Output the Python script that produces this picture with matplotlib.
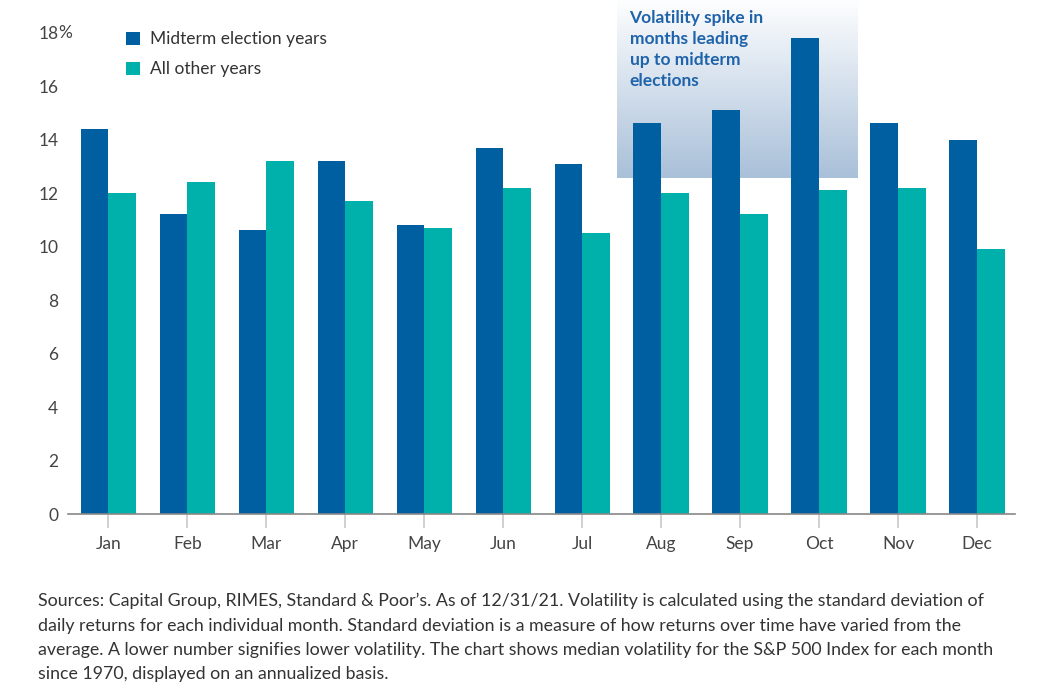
import numpy as np
import matplotlib.pyplot as plt
from matplotlib.colors import LinearSegmentedColormap

# Median annualized S&P 500 volatility by month (%)
months = ["Jan", "Feb", "Mar", "Apr", "May", "Jun",
          "Jul", "Aug", "Sep", "Oct", "Nov", "Dec"]
midterm = [14.4, 11.2, 10.6, 13.2, 10.8, 13.7, 13.1, 14.6, 15.1, 17.8, 14.6, 14.0]
other = [12.0, 12.4, 13.2, 11.7, 10.7, 12.2, 10.5, 12.0, 11.2, 12.1, 12.2, 9.9]
yticks = [0, 2, 4, 6, 8, 10, 12, 14, 16, 18]

blue = "#005fa0"
teal = "#00b0aa"
fs = 12.5

plt.rcParams['font.family'] = ['Lato', 'DejaVu Sans']

fig = plt.figure(figsize=(10.55, 6.95), dpi=100)
ax = fig.add_axes([0.0645, 0.2604, 0.8975, 0.6928])

x = np.arange(len(months))
w = 0.35
ax.bar(x - w / 2, midterm, w, color=blue, label="Midterm election years", zorder=3)
ax.bar(x + w / 2, other, w, color=teal, label="All other years", zorder=3)

# shaded callout box (gradient, fades to white at top)
grad = np.linspace(0, 1, 256).reshape(-1, 1)
cmap = LinearSegmentedColormap.from_list("fade", ["#a9c0d9", "#ffffff"])
ax.imshow(grad, extent=[6.44, 9.49, 12.56, 19.3], origin="lower", cmap=cmap,
          aspect="auto", zorder=1, clip_on=False)
ax.text(6.6, 18.85, "Volatility spike in\nmonths leading\nup to midterm\nelections",
        color="#1f63ab", fontsize=12.5, fontweight="bold", va="top", ha="left",
        linespacing=1.38, zorder=4)

ax.set_xlim(-0.51, 11.48)
ax.set_ylim(0, 18)
ax.set_xticks(x)
ax.set_xticklabels(months)
ax.set_yticks(yticks)
ax.set_yticklabels([str(t) for t in yticks])
ax.tick_params(axis="y", length=0, pad=7, labelsize=fs, labelcolor="#444444")
ax.tick_params(axis="x", length=10, width=1.2, color="#c8c8c8", pad=5.5,
               labelsize=fs, labelcolor="#444444")
ax.annotate("%", xy=(0, 18), xycoords=("axes fraction", "data"), xytext=(-7.3, 0),
            textcoords="offset points", ha="left", va="center",
            fontsize=fs, color="#444444")

for s in ["top", "right", "left"]:
    ax.spines[s].set_visible(False)
ax.spines["bottom"].set_color("#888888")
ax.spines["bottom"].set_linewidth(1.2)
ax.spines["bottom"].set_zorder(5)

ax.legend(loc="upper left", bbox_to_anchor=(0.045, 1.035), frameon=False,
          fontsize=fs, handlelength=0.8, handleheight=0.8, handletextpad=0.55,
          labelspacing=0.8, labelcolor="#333333")

note = ("Sources: Capital Group, RIMES, Standard & Poor’s. As of 12/31/21. Volatility is calculated using the standard deviation of\n"
        "daily returns for each individual month. Standard deviation is a measure of how returns over time have varied from the\n"
        "average. A lower number signifies lower volatility. The chart shows median volatility for the S&P 500 Index for each month\n"
        "since 1970, displayed on an annualized basis.")
fig.text(38 / 1055, 1 - 593 / 695, note, ha="left", va="top", fontsize=12.8,
         color="#333333", linespacing=1.63)

fig.savefig("out.png", dpi=100)
